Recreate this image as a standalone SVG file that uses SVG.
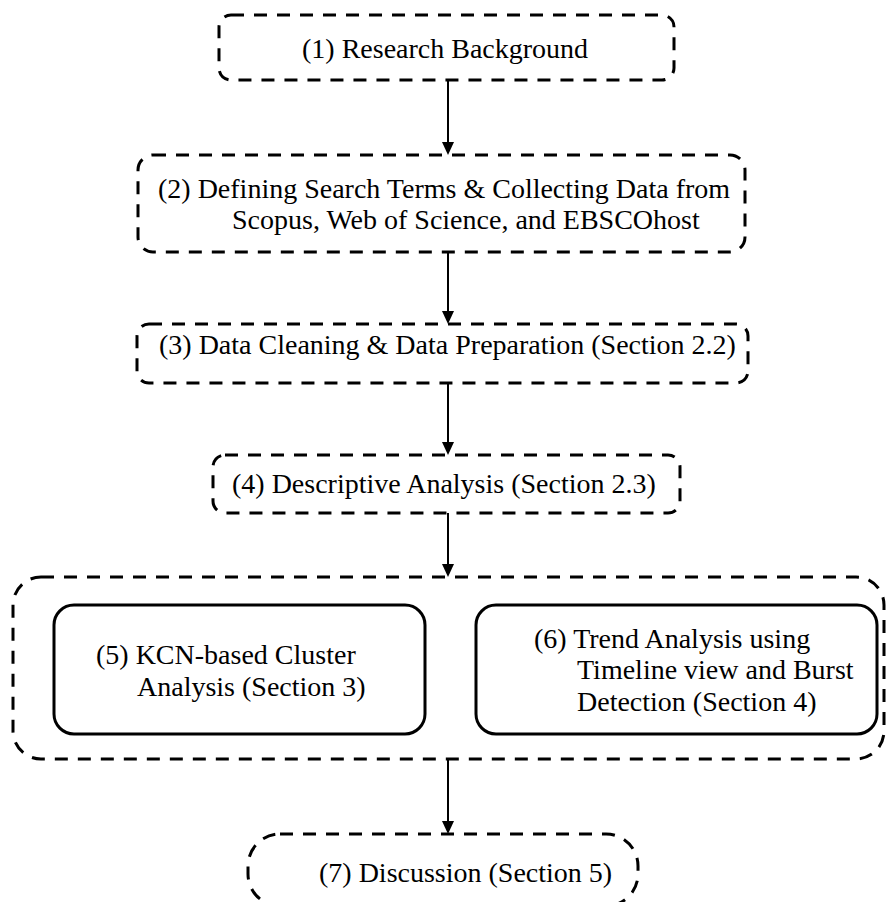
<svg xmlns="http://www.w3.org/2000/svg" width="887" height="902" viewBox="0 0 887 902">
<style>
.dash{fill:none;stroke:#000;stroke-width:3;stroke-dasharray:13 10}
.solid{fill:none;stroke:#000;stroke-width:3}
.t{font-family:"Liberation Serif","Times New Roman",serif;font-size:28px;fill:#000}
.conn{stroke:#000;stroke-width:2;fill:none}
.head{fill:#000;stroke:none}
</style>
<defs>
<polygon id="ah" class="head" points="-6,-13 6,-13 0,0"/>
</defs>
<rect width="887" height="902" fill="#fff"/>
<g id="connectors">
<line class="conn" x1="448" y1="80" x2="448" y2="143"/>
<use href="#ah" x="448" y="155"/>
<line class="conn" x1="448" y1="252" x2="448" y2="312"/>
<use href="#ah" x="448" y="324"/>
<line class="conn" x1="448" y1="383" x2="448" y2="443"/>
<use href="#ah" x="448" y="455"/>
<line class="conn" x1="448" y1="513" x2="448" y2="565"/>
<use href="#ah" x="448" y="577"/>
<line class="conn" x1="448" y1="759" x2="448" y2="822"/>
<use href="#ah" x="448" y="834"/>
</g>
<g id="n1">
<rect class="dash" x="219" y="15" width="455" height="65" rx="12"/>
<text class="t" x="302" y="58">(1) Research Background</text>
</g>
<g id="n2">
<rect class="dash" x="138" y="155" width="607" height="97" rx="15"/>
<text class="t" x="158" y="198">(2) Defining Search Terms &amp; Collecting Data from</text>
<text class="t" x="232" y="229">Scopus, Web of Science, and EBSCOhost</text>
</g>
<g id="n3">
<rect class="dash" x="137" y="324" width="611" height="59" rx="12"/>
<text class="t" x="159" y="354">(3) Data Cleaning &amp; Data Preparation (Section 2.2)</text>
</g>
<g id="n4">
<rect class="dash" x="213" y="455" width="467" height="58" rx="12"/>
<text class="t" x="232" y="493">(4) Descriptive Analysis (Section 2.3)</text>
</g>
<g id="group">
<rect class="dash" x="13" y="577" width="871" height="182" rx="28"/>
</g>
<g id="n5">
<rect class="solid" x="54" y="605" width="371" height="129" rx="20"/>
<text class="t" x="96" y="664">(5) KCN-based Cluster</text>
<text class="t" x="137" y="696">Analysis (Section 3)</text>
</g>
<g id="n6">
<rect class="solid" x="476" y="605" width="401" height="129" rx="20"/>
<text class="t" x="534" y="648">(6) Trend Analysis using</text>
<text class="t" x="577" y="679">Timeline view and Burst</text>
<text class="t" x="577" y="711">Detection (Section 4)</text>
</g>
<g id="n7">
<rect class="dash" x="248" y="834" width="390" height="72" rx="32"/>
<text class="t" x="319" y="882">(7) Discussion (Section 5)</text>
</g>
</svg>
